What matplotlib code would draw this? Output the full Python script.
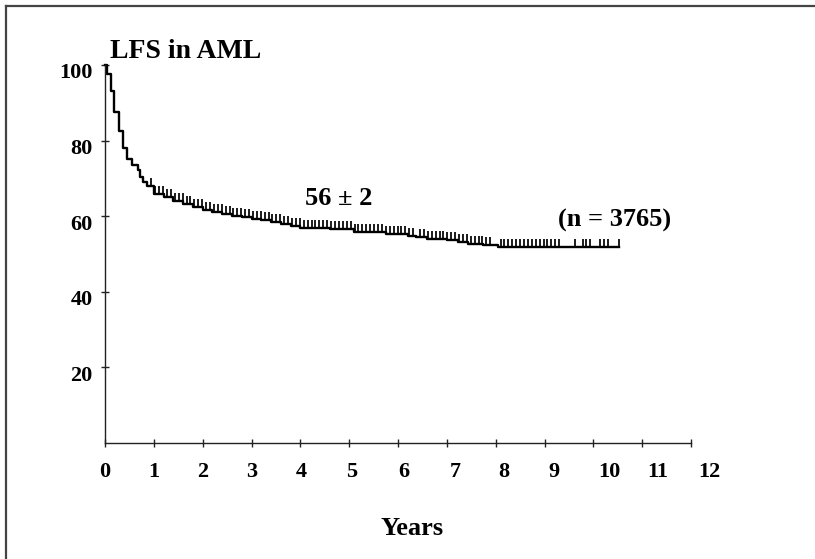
import matplotlib
matplotlib.use('Agg')
import matplotlib.pyplot as plt
from matplotlib.lines import Line2D
from matplotlib.transforms import ScaledTranslation
import numpy as np

# Kaplan-Meier steps: time (years) where survival drops, value after the drop (%)
step_times = [0.0, 0.04, 0.13, 0.19, 0.29, 0.37, 0.46, 0.55, 0.68, 0.72, 0.78, 0.87,
              1.0, 1.2, 1.4, 1.6, 1.8, 2.0, 2.2, 2.4, 2.6, 2.8, 3.0, 3.2, 3.4, 3.6,
              3.8, 4.0, 4.3, 4.6, 5.1, 5.75, 6.2, 6.37, 6.6, 7.0, 7.22, 7.43, 7.75, 8.05]
step_values = [100, 97.5, 93.0, 87.5, 82.6, 78.0, 75.2, 73.5, 72.3, 70.4, 69.0, 67.9,
               66.0, 65.0, 64.0, 63.2, 62.4, 61.6, 61.0, 60.5, 60.1, 59.8, 59.3, 58.9, 58.5, 58.0,
               57.5, 57.0, 56.8, 56.6, 55.8, 55.2, 54.8, 54.4, 54.0, 53.6, 53.1, 52.7, 52.3, 51.8]
last_time = 10.52

# censored observations (years)
censor_times = [0.95, 1.03, 1.11, 1.19, 1.27, 1.35, 1.43, 1.51, 1.59, 1.67, 1.75, 1.83,
                1.91, 1.99, 2.07, 2.15, 2.23, 2.31, 2.39, 2.47, 2.55, 2.63, 2.71, 2.79,
                2.87, 2.95, 3.03, 3.11, 3.19, 3.27, 3.35, 3.43, 3.51, 3.59, 3.67, 3.75,
                3.83, 3.91, 3.99, 4.07, 4.15, 4.23, 4.31, 4.39, 4.47, 4.55, 4.63, 4.71,
                4.79, 4.87, 4.95, 5.03, 5.11, 5.19, 5.27, 5.35, 5.43, 5.51, 5.59, 5.67,
                5.75, 5.83, 5.91, 5.99, 6.07, 6.15, 6.23, 6.30,
                6.45, 6.53, 6.61, 6.69, 6.77, 6.85, 6.93, 7.01, 7.09, 7.17, 7.25, 7.33,
                7.41, 7.49, 7.57, 7.65, 7.73, 7.81, 7.89,
                8.10, 8.18, 8.26, 8.34, 8.42, 8.50, 8.58, 8.66, 8.74, 8.82, 8.90, 8.98,
                9.06, 9.14, 9.22, 9.30,
                9.62, 9.78, 9.86, 9.94, 10.14, 10.22, 10.30, 10.52]

x_ticks = list(range(13))
x_labels = [str(i) for i in x_ticks]
y_ticks = [20, 40, 60, 80, 100]
y_labels = ['20', '40', '60', '80', '100']

# label shifts (px) seen in the original scan
x_label_shift = [0, 0, 0, 0, 1, 2, 6, 8, 8, 9, 16, 16, 18]

plt.rcParams['font.family'] = ['Liberation Serif', 'DejaVu Serif']
plt.rcParams['font.weight'] = 'bold'

fig = plt.figure(figsize=(8.15, 5.59), dpi=100)
ax = fig.add_axes([105/815, 1-443/559, (691-105)/815, (443-65)/559])

# curve
xs = step_times + [last_time]
ys = step_values + [step_values[-1]]
ax.step(xs, ys, where='post', color='black', lw=1.7, clip_on=False)

# censor marks sit on the curve
idx = np.searchsorted(step_times, censor_times, side='right') - 1
cy = [step_values[i] for i in idx]
ax.plot(censor_times, cy, linestyle='none', marker=2, markersize=5.5,
        markeredgewidth=1.25, color='black', clip_on=False)

ax.set_xlim(0, 12)
ax.set_ylim(0, 100)
for s in ['top', 'right']:
    ax.spines[s].set_visible(False)
for s in ['left', 'bottom']:
    ax.spines[s].set_color('#222222')
    ax.spines[s].set_linewidth(1.0)

ax.set_xticks(x_ticks)
ax.set_xticklabels(x_labels, fontsize=16, fontweight='bold')
ax.set_yticks(y_ticks)
ax.set_yticklabels(y_labels, fontsize=16, fontweight='bold')
ax.tick_params(axis='both', direction='inout', length=6, width=1.0, color='#222222')
ax.tick_params(axis='x', pad=11)
ax.tick_params(axis='y', pad=6)

for lab, dx in zip(ax.get_xticklabels(), x_label_shift):
    lab.set_transform(lab.get_transform() + ScaledTranslation(dx/100, 0, fig.dpi_scale_trans))
for lab in ax.get_yticklabels():
    lab.set_transform(lab.get_transform() + ScaledTranslation(0, -6/100, fig.dpi_scale_trans))

# annotations
ax.text(0.1, 101.9, 'LFS in AML', fontsize=20, fontweight='bold', ha='left', va='baseline', clip_on=False)
ax.text(4.79, 63.0, '56 \u00b1 2', fontsize=19, fontweight='bold', ha='center', va='baseline')
ax.text(10.44, 57.3, '(n = 3765)', fontsize=19, fontweight='bold', ha='center', va='baseline', clip_on=False)
fig.text(412/815, 1-535/559, 'Years', fontsize=19, fontweight='bold', ha='center', va='baseline')

# frame of the scanned figure (top and left edges only)
fig.add_artist(Line2D([6/815, 1], [1-6/559, 1-6/559], transform=fig.transFigure, color='#444444', lw=1.6))
fig.add_artist(Line2D([6/815, 6/815], [0, 1-6/559], transform=fig.transFigure, color='#444444', lw=1.6))

fig.savefig('out.png', dpi=100, facecolor='white')
